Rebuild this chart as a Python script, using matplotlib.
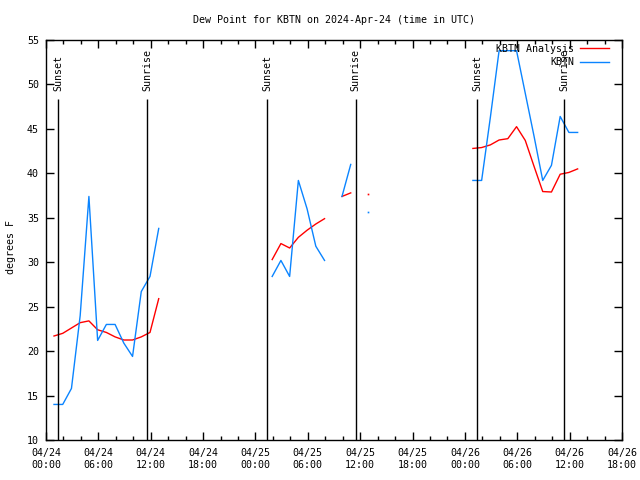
import numpy as np
import pandas as pd
from matplotlib import pyplot as plt
from matplotlib import dates as mdates

nan = np.nan

# hourly values, first one at 04/24 00:55 UTC
obs_start = "2024-04-24 00:55"
kbtn_obs = [14.0, 14.0, 15.8, 24.0, 37.4, 21.2, 23.0, 23.0, 20.9, 19.4, 26.7, 28.4, 33.8,
            nan, nan, nan, nan, nan, nan, nan, nan, nan, nan, nan, nan,
            28.4, 30.2, 28.4, 39.2, 36.0, 31.8, 30.2, nan, 37.4, 41.0, nan, 35.6,
            nan, nan, nan, nan, nan, nan, nan, nan, nan, nan, nan,
            39.2, 39.2, 46.3, 53.8, 53.8, 53.8, 49.0, 44.2, 39.2, 40.9, 46.4, 44.6, 44.6]
kbtn_analysis = [21.7, 22.0, 22.6, 23.2, 23.4, 22.4, 22.1, 21.6, 21.25, 21.25, 21.6, 22.1, 25.9,
                 nan, nan, nan, nan, nan, nan, nan, nan, nan, nan, nan, nan,
                 30.3, 32.1, 31.6, 32.8, 33.6, 34.3, 34.9, nan, 37.4, 37.8, nan, 37.7,
                 nan, nan, nan, nan, nan, nan, nan, nan, nan, nan, nan,
                 42.8, 42.9, 43.2, 43.75, 43.9, 45.25, 43.7, 40.8, 37.95, 37.9, 39.9, 40.1, 40.5]

sun_labels = ["Sunset", "Sunrise", "Sunset", "Sunrise", "Sunset", "Sunrise"]
sun_times = ["2024-04-24 01:24", "2024-04-24 11:37", "2024-04-25 01:22",
             "2024-04-25 11:30", "2024-04-26 01:25", "2024-04-26 11:24"]

FONT = "DejaVu Sans Mono"
FS = 7.2
RED = "#ff0000"
BLUE = "#0a84ff"


def isolated(values):
    """points with no neighbours, which a line would not show"""
    v = np.asarray(values, dtype=float)
    ok = ~np.isnan(v)
    prev = np.r_[False, ok[:-1]]
    nxt = np.r_[ok[1:], False]
    return ok & ~prev & ~nxt


def main():
    plt.rcParams["font.family"] = FONT
    plt.rcParams["font.size"] = FS

    times = pd.date_range(obs_start, periods=len(kbtn_obs), freq="h")
    sun = pd.to_datetime(sun_times)

    fig = plt.figure(figsize=(6.4, 4.8), dpi=100)
    ax = fig.add_axes([46 / 640, 40 / 480, 576 / 640, 400 / 480])

    ax.plot(times, kbtn_analysis, color=RED, lw=1, label="KBTN Analysis")
    ax.plot(times, kbtn_obs, color=BLUE, lw=1, label="KBTN")
    for vals, col in [(kbtn_analysis, RED), (kbtn_obs, BLUE)]:
        m = isolated(vals)
        ax.plot(times[m], np.asarray(vals)[m], ls="none", marker="s",
                ms=1.2, mew=0, color=col)

    ax.vlines(sun, 10, 48.4, color="black", lw=1)
    for t, lab in zip(sun, sun_labels):
        ax.text(t, 49.3, lab, rotation=90, ha="center", va="bottom", fontsize=FS)

    ax.set_xlim(pd.Timestamp("2024-04-24 00:00"), pd.Timestamp("2024-04-26 18:00"))
    ax.set_ylim(10, 55)
    ax.set_yticks(range(10, 56, 5))
    ax.xaxis.set_major_locator(mdates.HourLocator(byhour=[0, 6, 12, 18]))
    ax.xaxis.set_minor_locator(mdates.HourLocator(interval=2))
    ax.xaxis.set_major_formatter(mdates.DateFormatter("%m/%d\n%H:%M"))
    ax.tick_params(which="both", direction="in", top=True, right=True, width=1)
    ax.tick_params(which="major", length=6)
    ax.tick_params(which="minor", length=3)
    ax.tick_params(axis="x", pad=6)
    ax.tick_params(axis="y", pad=5)
    for s in ax.spines.values():
        s.set_linewidth(1)

    ax.set_title("Dew Point for KBTN on 2024-Apr-24 (time in UTC)", fontsize=FS, pad=12)
    fig.text(11 / 640, 1 - 247 / 480, "degrees F", rotation=90,
             ha="center", va="center", fontsize=FS)

    ax.legend(loc="upper right", bbox_to_anchor=(0.978, 0.99), frameon=False,
              markerfirst=False, handlelength=2.9, handletextpad=0.6,
              borderaxespad=0, borderpad=0, labelspacing=0.35)

    fig.savefig("out.png", dpi=100)


if __name__ == "__main__":
    main()
